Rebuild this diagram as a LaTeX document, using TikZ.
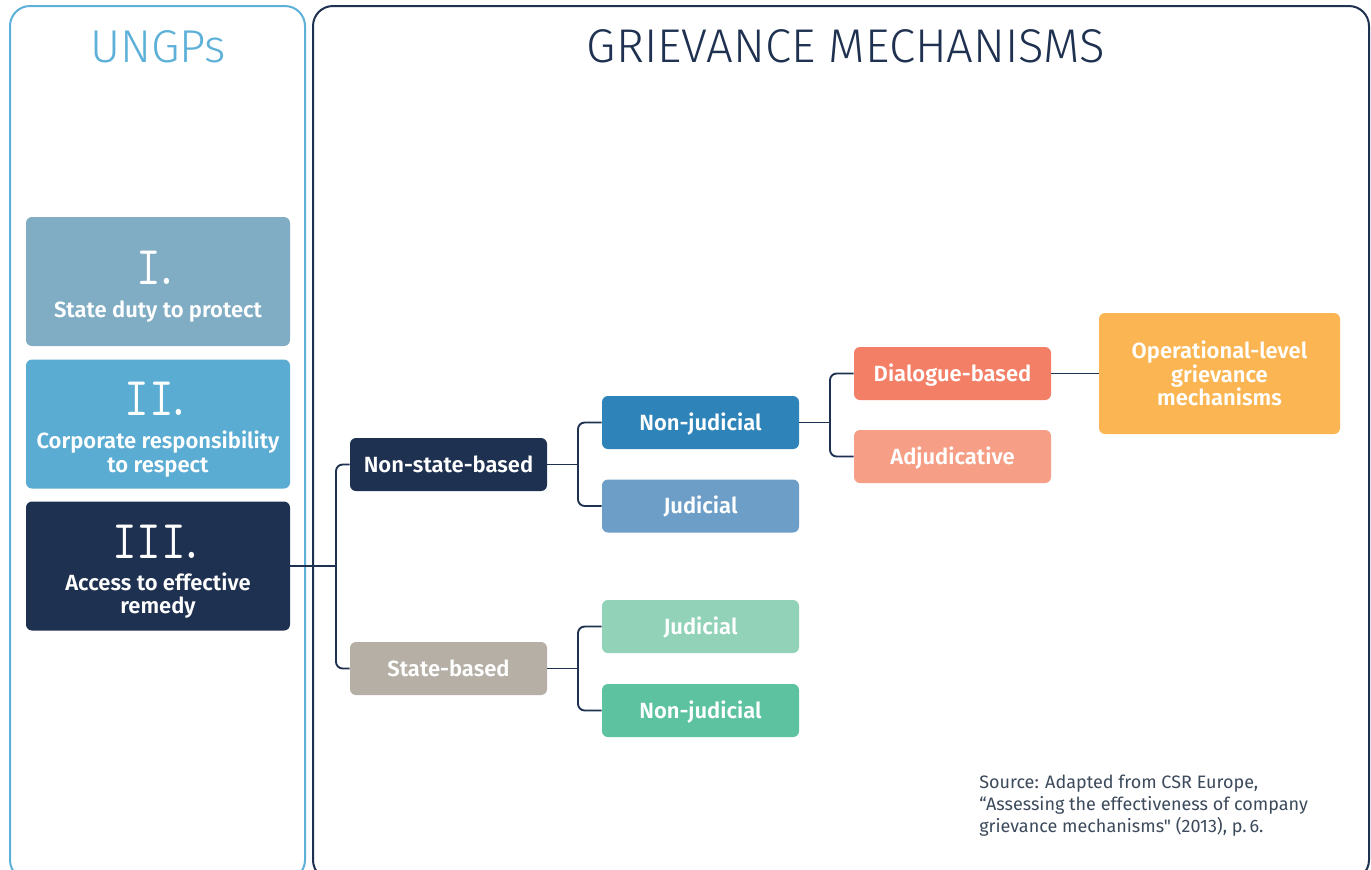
\documentclass[tikz,border=0pt]{standalone}
\usepackage{fontspec}
\setmainfont{Fira Sans}
\newfontfamily\lightfont{Fira Sans Light}
\newfontfamily\semib{Fira Sans SemiBold}
\newfontfamily\srcfont{Fira Sans}[Ligatures=TeXOff]
\newfontfamily\numfont{Latin Modern Mono}
\usepackage{graphicx}
\definecolor{navy}{HTML}{1F3150}
\definecolor{ltblue}{HTML}{5DB1D8}
\definecolor{cI}{HTML}{80ADC4}
\definecolor{cII}{HTML}{5AACD3}
\definecolor{cSB}{HTML}{B5AFA6}
\definecolor{cNJa}{HTML}{2E83B8}
\definecolor{cJa}{HTML}{6C9EC7}
\definecolor{cJb}{HTML}{91D2B8}
\definecolor{cNJb}{HTML}{5CC2A0}
\definecolor{cDB}{HTML}{F47F67}
\definecolor{cAD}{HTML}{F69E86}
\definecolor{cOP}{HTML}{FBB653}
\definecolor{srcgray}{HTML}{3C4A5C}
\newcommand{\romnum}[1]{\scalebox{0.88}[1]{#1\kern-0.15em.}}
\begin{document}
\begin{tikzpicture}[x=0.75pt,y=-0.75pt,
  box/.style={rectangle, rounded corners=4.5pt, draw=none, text=white,
    font=\semib\fontsize{16.5}{20}\selectfont, text height=11.4pt, text depth=0pt, inner sep=0pt},
  bigbox/.style={box, minimum width=198pt, minimum height=96.75pt},
  smallbox/.style={box, minimum width=147.75pt, minimum height=39.75pt},
  btxt/.style={text=white, font=\semib\fontsize{16.5}{20}\selectfont, inner sep=0pt, anchor=base},
  numtxt/.style={text=white, font=\numfont\fontsize{41}{45}\selectfont, inner sep=0pt, anchor=base},
  conn/.style={draw=navy, line width=1.4pt, rounded corners=5pt},
  panel/.style={line width=1.5pt, rounded corners=15pt},
  srctxt/.style={text=srcgray, font=\srcfont\fontsize{13.5}{16}\selectfont, inner sep=0pt, anchor=base west}
]
\useasboundingbox (0,0) rectangle (1371,869);
\clip (0,0) rectangle (1371,869);
\fill[white] (0,0) rectangle (1371,869);

% panels
\draw[panel, draw=ltblue] (10,6) rectangle (305,880);
\draw[panel, draw=navy] (313,6) rectangle (1369,880);

% titles
\node[anchor=base, inner sep=0pt, text=ltblue, font=\lightfont\fontsize{34.5}{40}\selectfont] (tU) at (158,62) {UNGPs};
\node[anchor=base, inner sep=0pt, text=navy, font=\lightfont\fontsize{35.5}{40}\selectfont] (tG) at (846,62) {GRIEVANCE MECHANISMS};

% UNGP boxes
\node[bigbox, fill=cI] (I) at (158,281.5) {};
\node[numtxt] (nI) at (158,284) {\romnum{I}};
\node[btxt] (tI) at (158,317) {State duty to protect};

\node[bigbox, fill=cII] (II) at (158,424) {};
\node[numtxt] (nII) at (158,415) {\romnum{II}};
\node[btxt] (tIIa) at (158,448) {Corporate responsibility};
\node[btxt] (tIIb) at (158,472) {to respect};

\node[bigbox, fill=navy] (III) at (158,566) {};
\node[numtxt] (nIII) at (158,558) {\romnum{III}};
\node[btxt] (tIIIa) at (158,590) {Access to effective};
\node[btxt] (tIIIb) at (158,613) {remedy};

% tree boxes
\node[smallbox, fill=navy] (NSB) at (448.5,464.5) {Non-state-based};
\node[smallbox, fill=cSB] (SB) at (448.5,668.5) {State-based};
\node[smallbox, fill=cNJa] (NJ1) at (700.5,422.5) {Non-judicial};
\node[smallbox, fill=cJa] (J1) at (700.5,506) {Judicial};
\node[smallbox, fill=cJb] (J2) at (700.5,626.5) {Judicial};
\node[smallbox, fill=cNJb] (NJ2) at (700.5,710.5) {Non-judicial};
\node[smallbox, fill=cDB] (DB) at (952.5,373.5) {Dialogue-based};
\node[smallbox, fill=cAD] (AD) at (952.5,456.5) {Adjudicative};
\node[box, fill=cOP, minimum width=180.75pt, minimum height=90.75pt] (OP) at (1219.5,373.5) {};
\node[btxt] (tOPa) at (1219.5,358) {Operational-level};
\node[btxt] (tOPb) at (1219.5,382) {grievance};
\node[btxt] (tOPc) at (1219.5,405) {mechanisms};

% connectors
\coordinate (b1) at (336,566);
\coordinate (b2) at (578,464.5);
\coordinate (b3) at (578,668.5);
\coordinate (b4) at (830,422.5);
\draw[conn] (III.east) -- (b1);
\draw[conn] (NSB.west) -| (b1) |- (SB.west);
\draw[conn] (NSB.east) -- (b2);
\draw[conn] (NJ1.west) -| (b2) |- (J1.west);
\draw[conn] (SB.east) -- (b3);
\draw[conn] (J2.west) -| (b3) |- (NJ2.west);
\draw[conn] (NJ1.east) -- (b4);
\draw[conn] (DB.west) -| (b4) |- (AD.west);
\draw[conn] (DB.east) -- (OP.west);

% source
\node[srctxt] (s1) at (979,788) {Source: Adapted from CSR Europe,};
\node[srctxt] (s2) at (979,810) {“Assessing the effectiveness of company};
\node[srctxt] (s3) at (979,832) {grievance mechanisms" (2013), p.\,6.};
\end{tikzpicture}
\end{document}
